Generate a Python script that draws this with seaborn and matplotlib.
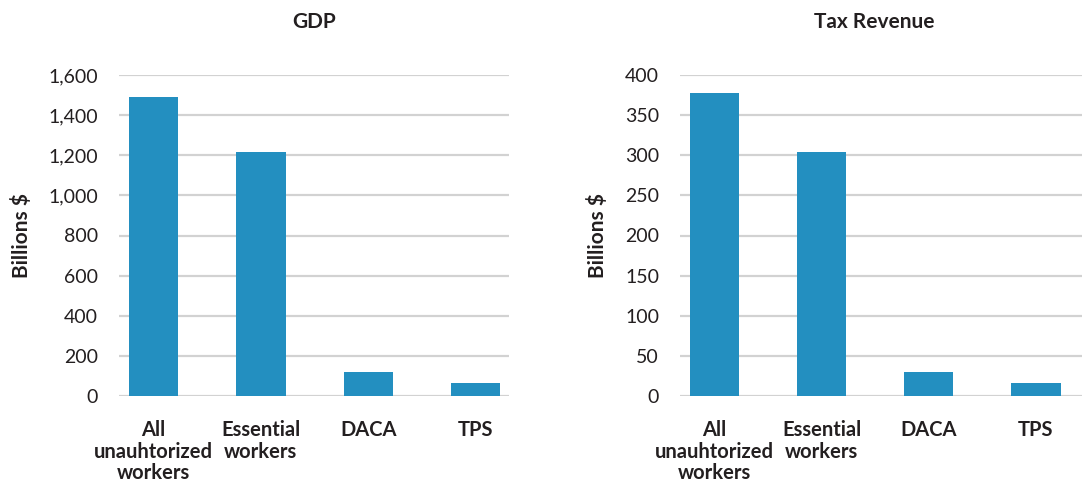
import matplotlib
matplotlib.use("Agg")
import matplotlib.pyplot as plt
import seaborn as sns

categories = ["All\nunauhtorized\nworkers", "Essential\nworkers", "DACA", "TPS"]
gdp_values = [1490, 1216, 120, 65]
tax_values = [378, 304, 30, 16]
gdp_ticks = [0, 200, 400, 600, 800, 1000, 1200, 1400, 1600]
tax_ticks = [0, 50, 100, 150, 200, 250, 300, 350, 400]

sns.set_theme(style="white")
plt.rcParams["font.family"] = ["Lato", "DejaVu Sans"]

BAR = "#238fc0"
GRID = "#d2d2d2"
TEXT = "#231f20"

fig = plt.figure(figsize=(10.82, 4.82), dpi=100)
ax1 = fig.add_axes([119 / 1082, 1 - 396 / 482, 390 / 1082, 321 / 482])
ax2 = fig.add_axes([680 / 1082, 1 - 396 / 482, 402 / 1082, 321 / 482])


def draw_panel(ax, values, ticks, title, xmax, title_x, fmt):
    sns.barplot(x=categories, y=values, color=BAR, width=0.46,
                saturation=1, linewidth=0, ax=ax, zorder=3)
    ax.set_xlim(-0.32, xmax)
    ax.set_ylim(0, ticks[-1])
    ax.set_yticks(ticks)
    ax.set_yticklabels([fmt(t) for t in ticks], fontsize=14, color=TEXT)
    ax.tick_params(axis="y", length=0, pad=15)
    ax.tick_params(axis="x", length=0, pad=17)
    for lab in ax.get_xticklabels():
        lab.set_fontsize(14.5)
        lab.set_fontweight("bold")
        lab.set_color(TEXT)
        lab.set_linespacing(1.12)
    ax.grid(axis="y", color=GRID, linewidth=1.6, zorder=0)
    ax.grid(axis="x", visible=False)
    for s in ax.spines.values():
        s.set_visible(False)
    ax.set_ylabel("Billions $", fontsize=15, fontweight="bold", color=TEXT,
                  labelpad=12)
    ax.set_title(title, fontsize=15, fontweight="bold", color=TEXT,
                 pad=34, x=title_x)


draw_panel(ax1, gdp_values, gdp_ticks, "GDP", 3.31, 0.5,
           lambda t: f"{t:,}")
draw_panel(ax2, tax_values, tax_ticks, "Tax Revenue", 3.43, 0.483,
           lambda t: f"{t}")

fig.savefig("out.png", dpi=100)
